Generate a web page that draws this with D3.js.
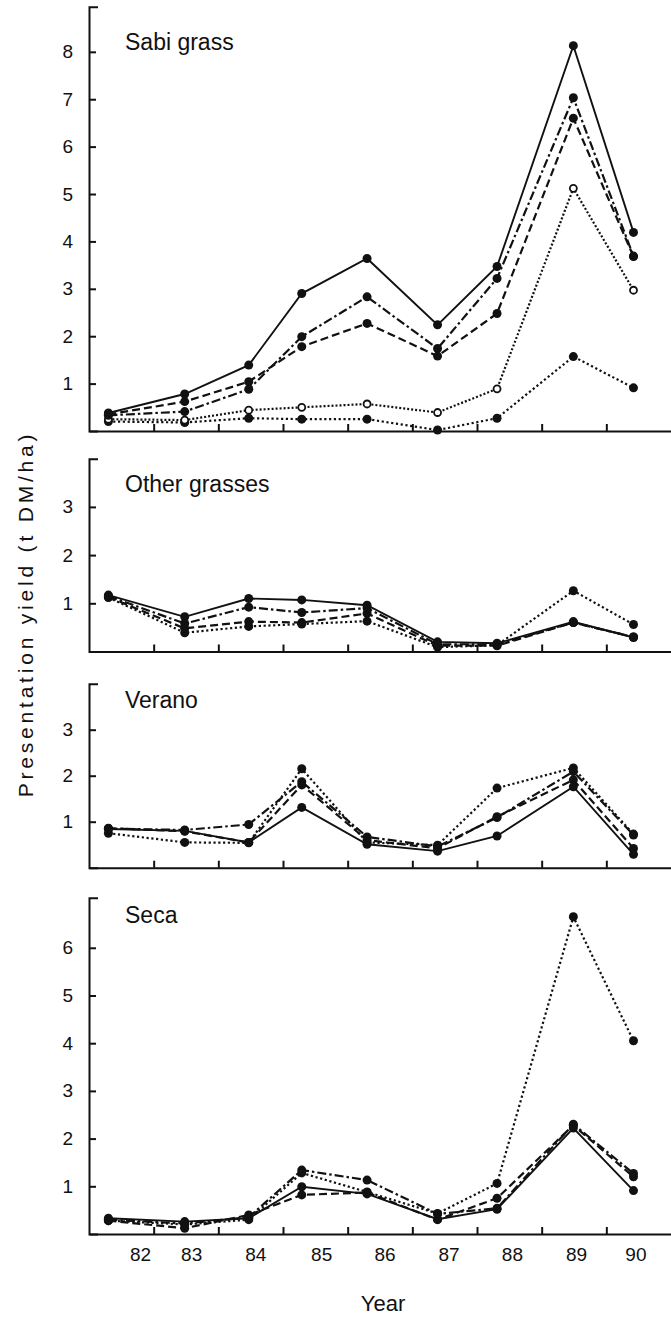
<!DOCTYPE html>
<html>
<head>
<script src="https://cdn.jsdelivr.net/npm/d3@7"></script>
<style>
	body { margin: 0; background: #fff; }
	svg { display: block; }
	text { font-family: "Liberation Sans", Arial, Helvetica, sans-serif; fill: #111; }
</style>
</head>
<body>
<script>
	// sampling times (in years, 82 = 1982) and year labels
	const sampleAt = [82.30, 83.48, 84.47, 85.29, 86.30, 87.39, 88.31, 89.49, 90.42];
	const yearLabels = ["82", "83", "84", "85", "86", "87", "88", "89", "90"];
	const yearLabelAt = [82.79, 83.58, 84.57, 85.59, 86.57, 87.56, 88.54, 89.53, 90.45];
	const yearTicks = [83, 84, 85, 86, 87, 88, 89, 90];

	const panelNames = ["Sabi grass", "Other grasses", "Verano", "Seca"];

	// Sabi grass
	const sabiSolid   = [0.38, 0.78, 1.39, 2.90, 3.64, 2.24, 3.47, 8.13, 4.19];
	const sabiDashDot = [0.33, 0.41, 0.88, 1.99, 2.83, 1.74, 3.22, 7.03, 3.69];
	const sabiDashed  = [0.35, 0.62, 1.04, 1.78, 2.27, 1.58, 2.48, 6.60, 3.68];
	const sabiOpenDot = [0.25, 0.23, 0.44, 0.50, 0.57, 0.39, 0.89, 5.12, 2.97];
	const sabiDotted  = [0.20, 0.18, 0.27, 0.25, 0.25, 0.02, 0.27, 1.57, 0.91];

	// Other grasses
	const otherSolid   = [1.17, 0.72, 1.10, 1.07, 0.96, 0.20, 0.17, 0.62, 0.29];
	const otherDashDot = [1.15, 0.58, 0.92, 0.81, 0.90, 0.15, 0.15, 0.60, 0.30];
	const otherDashed  = [1.13, 0.48, 0.62, 0.60, 0.79, 0.12, 0.12, 0.60, 0.30];
	const otherDotted  = [1.12, 0.39, 0.52, 0.57, 0.63, 0.09, 0.13, 1.26, 0.56];

	// Verano
	const veranoSolid   = [0.84, 0.80, 0.55, 1.31, 0.51, 0.36, 0.69, 1.76, 0.29];
	const veranoDashDot = [0.85, 0.82, 0.94, 1.87, 0.67, 0.46, 1.09, 2.09, 0.71];
	const veranoDashed  = [0.86, 0.79, 0.55, 1.80, 0.60, 0.42, 1.11, 1.91, 0.42];
	const veranoDotted  = [0.75, 0.55, 0.54, 2.15, 0.55, 0.49, 1.73, 2.17, 0.73];

	// Seca
	const secaSolid   = [0.33, 0.26, 0.33, 0.99, 0.84, 0.31, 0.52, 2.22, 0.91];
	const secaDashDot = [0.30, 0.22, 0.35, 1.34, 1.13, 0.42, 0.54, 2.30, 1.27];
	const secaDashed  = [0.28, 0.12, 0.40, 0.82, 0.87, 0.30, 0.75, 2.28, 1.20];
	const secaDotted  = [0.28, 0.20, 0.30, 1.28, 0.88, 0.43, 1.06, 6.65, 4.05];

	/* ---------------- layout ---------------- */
	const width = 671, height = 1319;
	const ink = "#111";

	const dash = { solid: null, dashdot: "9,3,2.5,3", dashed: "8,4", dotted: "2.2,2.6", opendot: "2,2" };

	const panels = [
		{ name: panelNames[0], yMax: 8.95, base: 431, top: 6.8, ticks: d3.range(1, 9), titleY: 50,
			series: [["dotted", sabiDotted], ["opendot", sabiOpenDot], ["dashed", sabiDashed], ["dashdot", sabiDashDot], ["solid", sabiSolid]] },
		{ name: panelNames[1], yMax: 4.0, base: 651.5, top: 458.7, ticks: [1, 2, 3], titleY: 492,
			series: [["dotted", otherDotted], ["dashed", otherDashed], ["dashdot", otherDashDot], ["solid", otherSolid]] },
		{ name: panelNames[2], yMax: 4.0, base: 867.7, top: 683.7, ticks: [1, 2, 3], titleY: 708,
			series: [["dotted", veranoDotted], ["dashed", veranoDashed], ["dashdot", veranoDashDot], ["solid", veranoSolid]] },
		{ name: panelNames[3], yMax: 7.05, base: 1234, top: 897.7, ticks: d3.range(1, 7), titleY: 923,
			series: [["dotted", secaDotted], ["dashed", secaDashed], ["dashdot", secaDashDot], ["solid", secaSolid]] }
	];

	const svg = d3.select("body").append("svg").attr("width", width).attr("height", height);

	const x = d3.scaleLinear().domain([82, 91]).range([89, 671]);

	panels.forEach(function(p, pi) {
		const y = d3.scaleLinear().domain([0, p.yMax]).range([p.base, p.top]);
		const g = svg.append("g");

		// y axis, ticks pointing inward, bracket at the top
		const ya = g.append("g").attr("transform", "translate(" + x(82) + ",0)")
			.call(d3.axisLeft(y).tickValues(p.ticks).tickSizeInner(-7).tickSizeOuter(-9)
				.tickPadding(16).tickFormat(d3.format("d")));
		ya.selectAll("text").attr("font-size", 19).attr("font-family", null);
		ya.selectAll("path, line").attr("stroke", ink).attr("stroke-width", 2);

		// x axis, ticks pointing up
		const xa = g.append("g").attr("transform", "translate(0," + p.base + ")")
			.call(d3.axisBottom(x).tickValues(yearTicks).tickSizeInner(-7).tickSizeOuter(0).tickFormat(""));
		xa.selectAll("path, line").attr("stroke", ink).attr("stroke-width", 2);

		g.append("text").attr("x", 125).attr("y", p.titleY).attr("font-size", 23).text(p.name);

		const line = d3.line().x(function(d, i) { return x(sampleAt[i]); }).y(function(d) { return y(d); });

		p.series.forEach(function(s) {
			const style = s[0], vals = s[1];
			g.append("path").datum(vals)
				.attr("d", line)
				.attr("fill", "none")
				.attr("stroke", ink)
				.attr("stroke-width", style == "solid" ? 1.9 : 2.2)
				.attr("stroke-dasharray", dash[style]);

			g.selectAll(null).data(vals).enter().append("circle")
				.attr("cx", function(d, i) { return x(sampleAt[i]); })
				.attr("cy", function(d) { return y(d); })
				.attr("r", style == "opendot" ? 3.5 : 4.5)
				.attr("fill", style == "opendot" ? "#fff" : ink)
				.attr("stroke", ink)
				.attr("stroke-width", style == "opendot" ? 1.8 : 0);
		});

		// year labels under the last panel only
		if (pi == panels.length - 1) {
			const la = g.append("g").attr("transform", "translate(0," + p.base + ")")
				.call(d3.axisBottom(x).tickValues(yearLabelAt).tickSize(0).tickPadding(14)
					.tickFormat(function(d, i) { return yearLabels[i]; }));
			la.select(".domain").remove();
			la.selectAll("text").attr("font-size", 19).attr("font-family", null);
		}
	});

	svg.append("text")
		.attr("transform", "translate(33,614) rotate(-90)")
		.attr("text-anchor", "middle")
		.attr("font-size", 21)
		.attr("letter-spacing", 3.8)
		.text("Presentation yield (t DM/ha)");

	svg.append("text")
		.attr("x", 383).attr("y", 1311)
		.attr("text-anchor", "middle")
		.attr("font-size", 22)
		.text("Year");
</script>
</body>
</html>
